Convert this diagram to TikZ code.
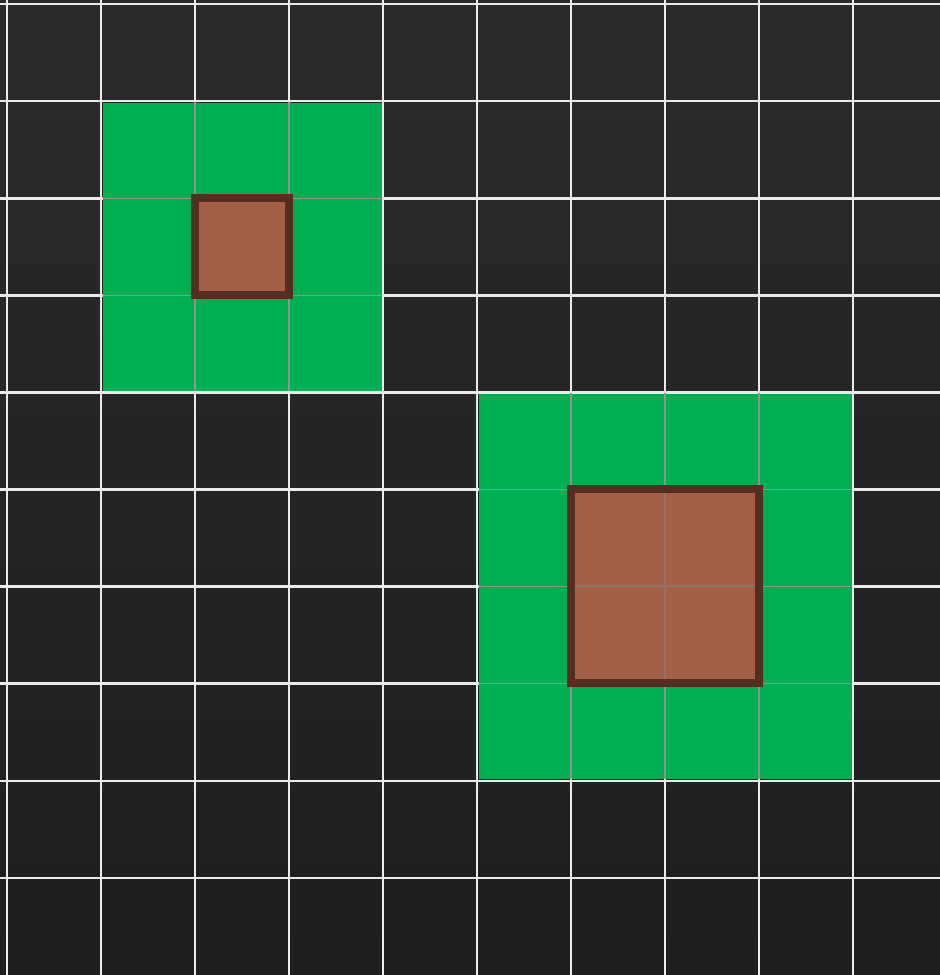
\documentclass[tikz,border=0pt]{standalone}
\begin{document}
\begin{tikzpicture}[x=1pt,y=-1pt,
  gridline/.style={draw=white!92!black,line width=2.6pt},
  innerline/.style={draw=gray!85!white,line width=1.3pt},
  greenfill/.style={fill=grassgreen},
  box/.style={fill=clay,draw=darkclay,line width=8pt}]
\definecolor{grassgreen}{RGB}{0,176,80}
\definecolor{clay}{RGB}{165,95,69}
\definecolor{darkclay}{RGB}{85,46,34}
\definecolor{bgtop}{RGB}{43,43,46}
\definecolor{bgbot}{RGB}{30,30,32}
\useasboundingbox (0,0) rectangle (940,975);
\shade[top color=bgtop,bottom color=bgbot] (0,0) rectangle (940,975);
% grid
\foreach \i in {0,...,9} {
  \draw[gridline] ({7+94*\i},0) -- ({7+94*\i},975);
}
\foreach \j in {0,...,9} {
  \draw[gridline] (0,{4+97.1*\j}) -- (940,{4+97.1*\j});
}
% green zones
\fill[greenfill] (102.5,102.5) rectangle (381.5,390.5);
\fill[greenfill] (478.5,393.5) rectangle (851.5,778.5);
\begin{scope}
  \clip (102.5,102.5) rectangle (381.5,390.5);
  \foreach \i in {2,3} \draw[innerline] ({7+94*\i},0) -- ({7+94*\i},975);
  \foreach \j in {2,3} \draw[innerline] (0,{4+97.1*\j}) -- (940,{4+97.1*\j});
\end{scope}
\begin{scope}
  \clip (478.5,393.5) rectangle (851.5,778.5);
  \foreach \i in {6,7,8} \draw[innerline] ({7+94*\i},0) -- ({7+94*\i},975);
  \foreach \j in {5,6,7} \draw[innerline] (0,{4+97.1*\j}) -- (940,{4+97.1*\j});
\end{scope}
% boxes
\path[box] (195,198) rectangle (289,295);
\fill[clay,opacity=0] (0,0);
\path[fill=clay] (571,489) rectangle (759,683);
\begin{scope}
  \clip (571,489) rectangle (759,683);
  \draw[innerline,draw=gray!70!clay] (665,489) -- (665,683);
  \draw[innerline,draw=gray!70!clay] (571,586) -- (759,586);
\end{scope}
\draw[darkclay,line width=8pt] (571,489) rectangle (759,683);
\end{tikzpicture}
\end{document}
